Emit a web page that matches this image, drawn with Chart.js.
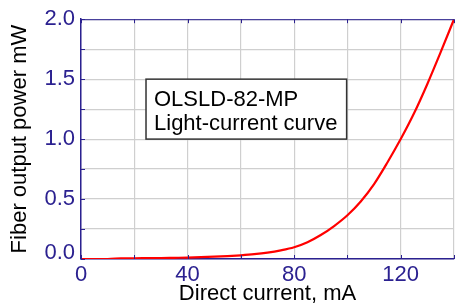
<!DOCTYPE html>
<html>
<head>
<meta charset="utf-8">
<script src="https://cdn.jsdelivr.net/npm/chart.js@4.4.1/dist/chart.umd.min.js"></script>
<style>
  html, body { margin: 0; padding: 0; background: #fff; }
  canvas { display: block; }
</style>
</head>
<body>
<canvas id="lcChart" width="457" height="307"></canvas>
<script>
// Light-current curve
const currentMA = [0, 5, 10, 15, 20, 25, 30, 35, 40, 45, 50, 55, 60, 65, 70, 75,
  80, 85, 90, 95, 100, 105, 110, 115, 120, 125, 130, 135, 140];
const powerMW = [0.0, 0.0, 0.0, 0.005, 0.006, 0.007, 0.008, 0.01, 0.012, 0.015,
  0.019, 0.024, 0.031, 0.04, 0.053, 0.072, 0.098, 0.14, 0.20, 0.275, 0.365,
  0.48, 0.625, 0.805, 1.0, 1.215, 1.46, 1.725, 2.0];

const xLabelTicks = [0, 40, 80, 120];
const yLabelTicks = [0.5, 1.0, 1.5, 2.0]; // 0.0 is drawn a bit raised, below
const boxLines = ["OLSLD-82-MP", "Light-current curve"];
const boxRange = { x0: 24.4, x1: 99.7, y0: 1.0, y1: 1.5 };

const FONT = "'Liberation Sans', Arial, sans-serif";
const AXIS_BLUE = "#2b2190";
const GRID = "#cfcfcf";

// draws the top border, inward tick marks, the raised 0.0 label and the text box
const framePlugin = {
  id: "frame",
  afterDraw(chart) {
    const { ctx, chartArea: a, scales } = chart;
    ctx.save();
    // text box
    const bx0 = scales.x.getPixelForValue(boxRange.x0);
    const bx1 = scales.x.getPixelForValue(boxRange.x1);
    const by0 = scales.y.getPixelForValue(boxRange.y1);
    const by1 = scales.y.getPixelForValue(boxRange.y0);
    ctx.fillStyle = "#fff";
    ctx.fillRect(bx0, by0, bx1 - bx0, by1 - by0);
    ctx.strokeStyle = "#333";
    ctx.lineWidth = 1.5;
    ctx.strokeRect(bx0, by0, bx1 - bx0, by1 - by0);
    ctx.fillStyle = "#000";
    ctx.font = "22px " + FONT;
    ctx.textBaseline = "alphabetic";
    ctx.fillText(boxLines[0], bx0 + 8, by0 + 27);
    ctx.fillText(boxLines[1], bx0 + 8, by0 + 51);

    // 0.0 label, lifted so it clears the x labels
    ctx.fillStyle = AXIS_BLUE;
    ctx.textAlign = "right";
    ctx.textBaseline = "middle";
    ctx.fillText((0).toFixed(1), a.left - 6, scales.y.getPixelForValue(0) - 6);

    // top border
    ctx.strokeStyle = AXIS_BLUE;
    ctx.lineWidth = 1;
    ctx.beginPath();
    ctx.moveTo(a.left, a.top + 0.5);
    ctx.lineTo(a.right, a.top + 0.5);
    ctx.stroke();

    // inward ticks
    ctx.beginPath();
    scales.x.ticks.forEach(t => {
      const px = Math.round(scales.x.getPixelForValue(t.value)) + 0.5;
      ctx.moveTo(px, a.bottom);
      ctx.lineTo(px, a.bottom - 4);
      ctx.moveTo(px, a.top);
      ctx.lineTo(px, a.top + 4);
    });
    scales.y.ticks.forEach(t => {
      const py = Math.round(scales.y.getPixelForValue(t.value)) + 0.5;
      ctx.moveTo(a.left, py);
      ctx.lineTo(a.left + 4, py);
    });
    ctx.stroke();
    ctx.restore();
  }
};

new Chart(document.getElementById("lcChart"), {
  type: "line",
  data: {
    datasets: [
      {
        data: currentMA.map((x, i) => ({ x: x, y: powerMW[i] })),
        borderColor: "#ff0000",
        borderWidth: 2.2,
        pointRadius: 0,
        cubicInterpolationMode: "monotone",
        fill: false,
      },
    ],
  },
  options: {
    responsive: false,
    animation: false,
    layout: { padding: { top: 19, right: 0, left: 0, bottom: 0 } },
    plugins: {
      legend: { display: false },
      tooltip: { enabled: false },
    },
    scales: {
      x: {
        type: "linear",
        min: 0,
        max: 140,
        afterFit: (s) => { s.height = 48; },
        border: { color: AXIS_BLUE, width: 1.5 },
        grid: { color: GRID, lineWidth: 1.2, drawTicks: false },
        ticks: {
          stepSize: 20,
          padding: 3,
          color: AXIS_BLUE,
          font: { family: FONT, size: 22 },
          maxRotation: 0,
          autoSkip: false,
          callback: (v) => (xLabelTicks.includes(v) ? String(v) : ""),
        },
        title: {
          display: true,
          text: "Direct current, mA",
          color: "#000",
          font: { family: FONT, size: 22 },
          padding: { top: 0, bottom: 0 },
        },
      },
      y: {
        min: 0,
        max: 2,
        afterFit: (s) => { s.width = 81; },
        border: { color: AXIS_BLUE, width: 1.5 },
        grid: { color: GRID, lineWidth: 1.2, drawTicks: false },
        ticks: {
          stepSize: 0.25,
          padding: 6,
          color: AXIS_BLUE,
          font: { family: FONT, size: 22 },
          autoSkip: false,
          callback: (v) => (yLabelTicks.includes(v) ? v.toFixed(1) : ""),
        },
        title: {
          display: true,
          text: "Fiber output power mW",
          color: "#000",
          font: { family: FONT, size: 22 },
          padding: { top: 7, bottom: 0 },
        },
      },
    },
  },
  plugins: [framePlugin],
});
</script>
</body>
</html>
